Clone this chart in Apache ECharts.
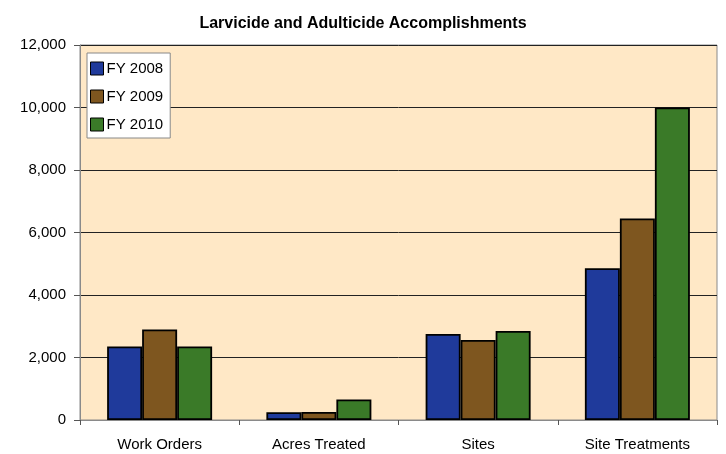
<!DOCTYPE html>
<html><head><meta charset="utf-8">
<script src="https://cdn.jsdelivr.net/npm/echarts@6/dist/echarts.min.js"></script>
<style>html,body{margin:0;padding:0;background:#fff}#c{width:726px;height:454px}</style>
</head><body><div id="c"></div>
<script>
const categories = ["Work Orders", "Acres Treated", "Sites", "Site Treatments"];
const fy2008 = [2350, 250, 2750, 4860];
const fy2009 = [2900, 260, 2560, 6450];
const fy2010 = [2350, 660, 2850, 10000];
const seriesNames = ["FY 2008", "FY 2009", "FY 2010"];
const colors = ["#1F3A9B", "#7E561F", "#3A7A28"];
const values = [fy2008, fy2009, fy2010];

const chart = echarts.init(document.getElementById('c'));
chart.setOption({
  animation: false,
  backgroundColor: '#fff',
  title: {
    text: 'Larvicide and Adulticide Accomplishments',
    left: 'center', top: 11,
    textStyle: {fontFamily: '"Liberation Sans", Arial', fontSize: 16, fontWeight: 'bold', color: '#000'}
  },
  legend: {
    orient: 'vertical', left: 87, top: 53,
    backgroundColor: '#fff', borderColor: '#888', borderWidth: 1,
    padding: [8, 7, 6, 3], itemGap: 13,
    itemWidth: 13, itemHeight: 13, icon: 'rect',
    itemStyle: {borderColor: '#000', borderWidth: 1},
    textStyle: {fontFamily: 'Liberation Sans, Arial', fontSize: 15, color: '#000', padding: [0, 0, 0, -2]},
    data: seriesNames
  },
  grid: {
    left: 80, right: 9, top: 45, bottom: 34,
    show: true, backgroundColor: '#FFE8C6', borderColor: '#8a8a8a', borderWidth: 1
  },
  xAxis: {
    type: 'category', data: categories,
    axisLine: {lineStyle: {color: '#8a8a8a'}},
    axisTick: {show: true, length: 5, lineStyle: {color: '#555'}},
    axisLabel: {fontFamily: 'Liberation Sans, Arial', fontSize: 15, color: '#000', margin: 17}
  },
  yAxis: {
    type: 'value', min: 0, max: 12000, interval: 2000,
    axisLine: {show: true, lineStyle: {color: '#8a8a8a'}},
    axisTick: {show: true, length: 6, lineStyle: {color: '#555'}},
    splitLine: {lineStyle: {color: '#222', width: 1}},
    axisLabel: {fontFamily: 'Liberation Sans, Arial', fontSize: 15, color: '#000', margin: 14,
      formatter: v => v.toLocaleString('en-US')}
  },
  series: seriesNames.map((n, i) => ({
    name: n, type: 'bar', data: values[i],
    barWidth: 35, barGap: '0%',
    itemStyle: {color: colors[i], borderColor: '#000', borderWidth: 1.8}
  }))
});
</script></body></html>
